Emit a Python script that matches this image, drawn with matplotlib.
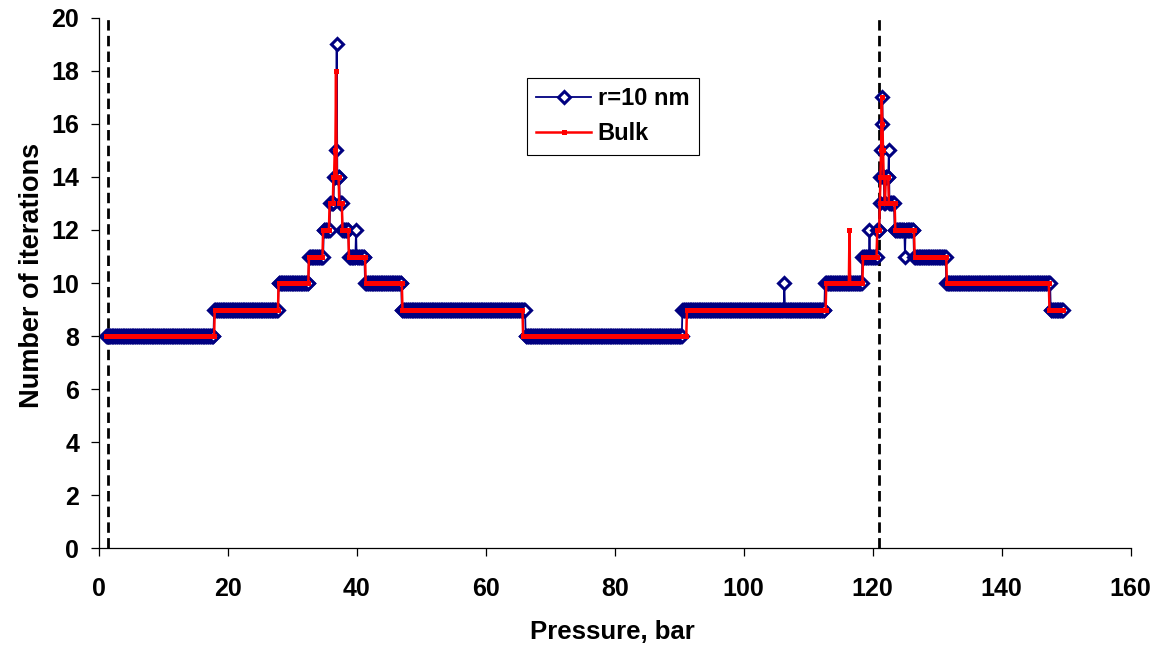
import numpy as np
import matplotlib
matplotlib.use("Agg")
import matplotlib.pyplot as plt

plt.rcParams['font.family'] = ['Liberation Sans', 'DejaVu Sans']
plt.rcParams['font.weight'] = 'bold'
plt.rcParams['lines.scale_dashes'] = False

# pressure grid the solver was evaluated on (bar)
p_first, p_last, p_step = 1.2, 149.5, 0.1

# r = 10 nm: pressure where each iteration level starts, and the level
pore_start = [1.2, 17.9, 27.9, 32.6, 34.9, 35.9, 36.5, 36.8, 36.9, 37.0,
              37.4, 37.8, 38.8, 39.9, 40.0, 41.3, 47.0, 66.2, 90.5, 106.3,
              106.4, 112.6, 118.4, 119.5, 119.6, 120.7, 121.1, 121.2, 121.3, 121.4,
              121.5, 121.6, 121.8, 122.0, 122.5, 122.6, 123.4, 125.0, 125.1, 126.4,
              131.4, 147.6]
pore_iter = [8, 9, 10, 11, 12, 13, 14, 15, 19, 14,
             13, 12, 11, 12, 11, 10, 9, 8, 9, 10,
             9, 10, 11, 12, 11, 12, 13, 14, 15, 16,
             17, 14, 13, 14, 15, 13, 12, 11, 12, 11,
             10, 9]

# Bulk
bulk_start = [1.2, 18.0, 27.9, 32.6, 34.8, 35.8, 36.4, 36.6, 36.8, 36.9,
              37.3, 37.8, 38.8, 41.4, 47.1, 65.8, 91.2, 112.8, 116.4, 116.5,
              118.5, 120.7, 121.1, 121.2, 121.3, 121.4, 121.5, 121.6, 121.7, 121.9,
              122.0, 122.5, 123.5, 126.5, 131.5, 147.4]
bulk_iter = [8, 9, 10, 11, 12, 13, 14, 15, 18, 14,
             13, 12, 11, 10, 9, 8, 9, 10, 12, 10,
             11, 12, 13, 14, 15, 17, 16, 15, 14, 13,
             14, 13, 12, 11, 10, 9]

# phase boundaries (dashed)
boundaries = [1.4, 121.05]


def on_grid(starts, levels, grid):
    idx = np.searchsorted(np.array(starts), grid + 1e-6, side='right') - 1
    return np.array(levels)[idx]


pressure = np.round(np.arange(p_first, p_last + p_step / 2, p_step), 1)
pore = on_grid(pore_start, pore_iter, pressure)
bulk = on_grid(bulk_start, bulk_iter, pressure)

fig = plt.figure(figsize=(11.62, 6.52), dpi=100)
ax = fig.add_axes([0.0849, 0.1595, 0.8882, 0.8129])

for xb in boundaries:
    ax.axvline(xb, color='black', lw=2.0, dashes=(7.5, 3.8), zorder=1)

ax.plot(pressure, pore, color='#000080', lw=1.3, marker='D', ms=6.2, mew=2.2,
        mfc='white', mec='#000080', label='r=10 nm', zorder=2)
ax.plot(pressure, bulk, color='#FF0000', lw=1.8, marker='s', ms=3.6, mew=0,
        label='Bulk', zorder=3)

ax.set_xlim(0, 160)
ax.set_ylim(0, 20)
ax.set_xticks(range(0, 161, 20))
ax.set_yticks(range(0, 21, 2))
for s in ('top', 'right'):
    ax.spines[s].set_visible(False)
for s in ('left', 'bottom'):
    ax.spines[s].set_linewidth(0.9)
ax.tick_params(axis='both', direction='out', length=6, width=0.9, labelsize=18)
ax.tick_params(axis='x', pad=15)
ax.tick_params(axis='y', pad=8)

fig.text(612 / 1162, 1 - 632 / 652, 'Pressure, bar', ha='center', va='center',
         fontsize=18.5, fontweight='bold')
fig.text(32 / 1162, 1 - 275 / 652, 'Number of iterations', ha='center', va='center',
         rotation=90, fontsize=19.5, fontweight='bold')

leg = ax.legend(loc='upper left', bbox_to_anchor=(527 / 1162, 1 - 78 / 652),
                bbox_transform=fig.transFigure, borderaxespad=0, fancybox=False,
                framealpha=1, edgecolor='black', prop={'size': 17, 'weight': 'bold'},
                handlelength=2.3, handletextpad=0.3, borderpad=0.4, labelspacing=0.5)
leg.get_frame().set_linewidth(0.8)

fig.savefig('out.png', dpi=100)
